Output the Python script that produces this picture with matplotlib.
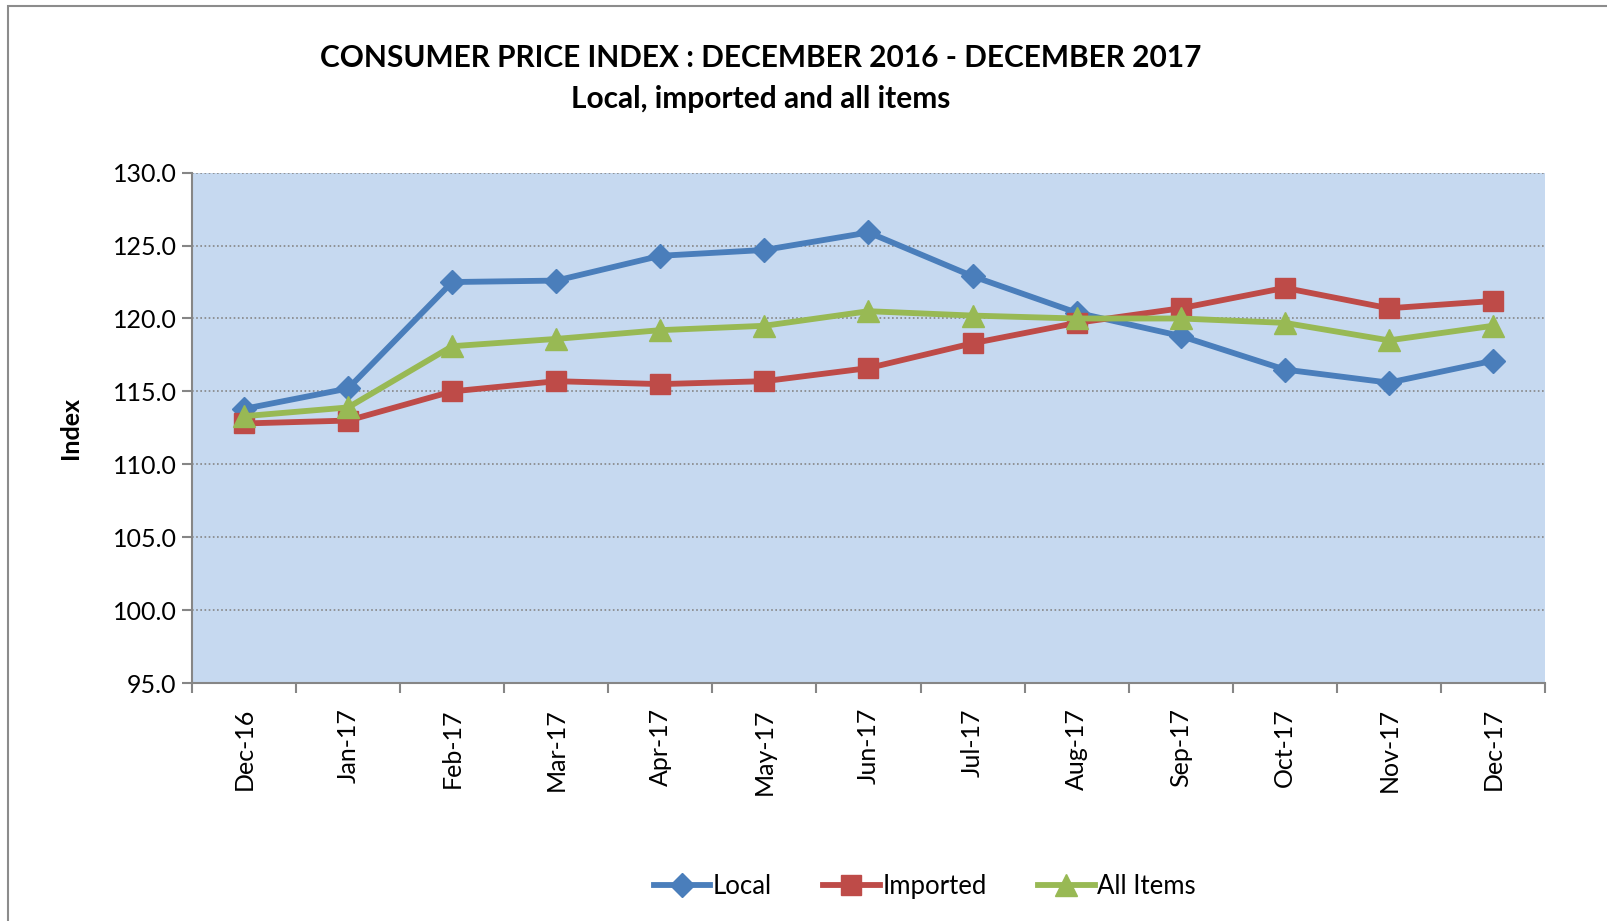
import numpy as np
import matplotlib.pyplot as plt
from matplotlib.patches import Rectangle

plt.rcParams['font.family'] = ['Lato', 'DejaVu Sans']

meses = ["Dec-16", "Jan-17", "Feb-17", "Mar-17", "Apr-17", "May-17", "Jun-17",
         "Jul-17", "Aug-17", "Sep-17", "Oct-17", "Nov-17", "Dec-17"]
local = [113.8, 115.2, 122.5, 122.6, 124.3, 124.7, 125.9, 122.9, 120.4, 118.8, 116.5, 115.6, 117.1]
importado = [112.8, 113.0, 115.0, 115.7, 115.5, 115.7, 116.6, 118.3, 119.7, 120.7, 122.1, 120.7, 121.2]
todos = [113.3, 113.9, 118.1, 118.6, 119.2, 119.5, 120.5, 120.2, 120.0, 120.0, 119.7, 118.5, 119.5]
yticks = [95.0, 100.0, 105.0, 110.0, 115.0, 120.0, 125.0, 130.0]

fig = plt.figure(figsize=(16.08, 9.21), dpi=100)
fig.patches.append(Rectangle((8/1608, -0.05), 1.2, 1.05 - 6/921, transform=fig.transFigure,
                             fill=False, edgecolor="#8c8c8c", linewidth=1.5))
ax = fig.add_axes([0.1194, 0.2584, 0.8414, 0.5541])
ax.set_facecolor("#C6D9F0")

x = np.arange(len(meses))
ax.plot(x, local, color="#4A7EBB", lw=4.2, marker="D", ms=12, label="Local", zorder=3)
ax.plot(x, importado, color="#BE4B48", lw=4.2, marker="s", ms=15, label="Imported", zorder=3)
ax.plot(x, todos, color="#98B954", lw=4.2, marker="^", ms=16, label="All Items", zorder=3)

ax.set_xlim(-0.5, len(meses) - 0.5)
ax.set_ylim(95, 130)
ax.set_yticks(yticks)
ax.set_yticklabels([f"{v:.1f}" for v in yticks], fontsize=18)
ax.yaxis.grid(True, linestyle=(0, (1, 1.5)), color="#868686", lw=1.2)
ax.set_axisbelow(True)
ax.set_xticks(x)
ax.set_xticklabels(meses, rotation=90, fontsize=18)
ax.set_xticks(np.arange(-0.5, len(meses)), minor=True)
ax.tick_params(axis="x", which="major", length=0, pad=18)
ax.tick_params(axis="x", which="minor", length=7, width=1.5, color="#868686")
ax.tick_params(axis="y", length=7, width=1.5, color="#868686", pad=4)
for s in ["top", "right"]:
    ax.spines[s].set_visible(False)
for s in ["left", "bottom"]:
    ax.spines[s].set_color("#868686")
    ax.spines[s].set_linewidth(1.5)

ax.set_ylabel("Index", fontsize=18, fontweight="bold", labelpad=22)
fig.text(0.473, 0.937, "CONSUMER PRICE INDEX : DECEMBER 2016 - DECEMBER 2017",
         ha="center", va="center", fontsize=21.5, fontweight="bold")
fig.text(0.473, 0.893, "Local, imported and all items",
         ha="center", va="center", fontsize=21.5, fontweight="bold")

fig.legend(loc="center", bbox_to_anchor=(0.575, 0.037), ncol=3, frameon=False,
           fontsize=18.5, handlelength=2.2, columnspacing=2.0, handletextpad=0.1)

plt.savefig("out.png", dpi=100)
